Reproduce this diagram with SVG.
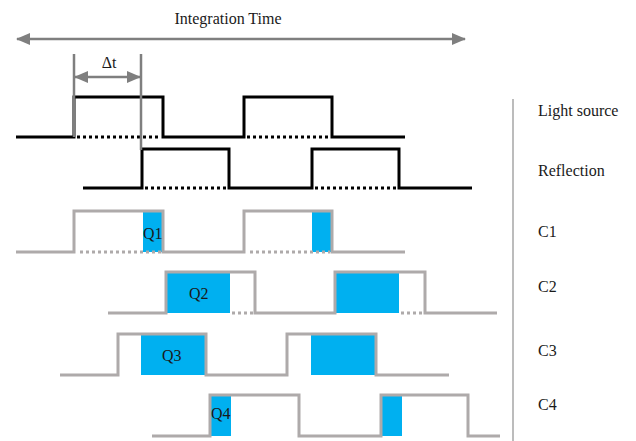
<svg xmlns="http://www.w3.org/2000/svg" width="636" height="441" viewBox="0 0 636 441">
<defs>
<style>
.txt{font-family:"Liberation Serif","Times New Roman",serif;font-size:16px;fill:#1a1a1a}
.blk{fill:none;stroke:#000;stroke-width:3}
.blkdot{fill:none;stroke:#000;stroke-width:3;stroke-dasharray:3 3}
.gry{fill:none;stroke:#aeaaaa;stroke-width:3}
.grydot{fill:none;stroke:#aeaaaa;stroke-width:3;stroke-dasharray:3 3}
.q{fill:#00b0f0}
.dim{fill:none;stroke:#7f7f7f;stroke-width:2.5}
</style>
<marker id="ah" viewBox="0 0 14 12" refX="13" refY="6" markerWidth="14" markerHeight="12" orient="auto-start-reverse" markerUnits="userSpaceOnUse">
<path d="M0,0 L14,6 L0,12 z" fill="#7f7f7f"/>
</marker>
</defs>
<rect width="636" height="441" fill="#fff"/>

<g id="connectors">
<line class="dim" x1="17" y1="39" x2="465" y2="39" marker-start="url(#ah)" marker-end="url(#ah)"/>
<line class="dim" x1="75" y1="77" x2="140" y2="77" marker-start="url(#ah)" marker-end="url(#ah)"/>
</g>

<g id="integration-label"><text class="txt" x="228" y="24" text-anchor="middle">Integration Time</text></g>
<g id="dt-label"><text class="txt" x="109" y="68" text-anchor="middle">Δt</text></g>

<g id="light-source">
<path class="blk" d="M16,137 H74 V97 H163 V137 H244 V97 H332 V137 H405"/>
<line class="blkdot" x1="77" y1="137" x2="161" y2="137"/>
<line class="blkdot" x1="247" y1="137" x2="330" y2="137"/>
</g>

<g id="reflection">
<path class="blk" d="M83,188 H142 V149 H229 V188 H312 V149 H399 V188 H472"/>
<line class="blkdot" x1="145" y1="188" x2="227" y2="188"/>
<line class="blkdot" x1="315" y1="188" x2="397" y2="188"/>
</g>

<g id="dt-markers">
<line class="dim" x1="74" y1="54" x2="74" y2="137"/>
<line class="dim" x1="141" y1="54" x2="141" y2="150"/>
</g>

<g id="c1">
<rect class="q" x="143" y="211" width="20" height="41"/>
<rect class="q" x="312" y="211" width="20" height="41"/>
<path class="gry" d="M16,252 H74 V211 H163 V252 H244 V211 H332 V252 H405"/>
<line class="grydot" x1="80" y1="252" x2="161" y2="252"/>
<line class="grydot" x1="250" y1="252" x2="330" y2="252"/>
<text class="txt" x="143" y="239">Q1</text>
</g>

<g id="c2">
<rect class="q" x="166" y="272" width="64" height="41"/>
<rect class="q" x="335" y="272" width="64" height="41"/>
<path class="gry" d="M108,313 H166 V272 H255 V313 H335 V272 H425 V313 H497"/>
<line class="grydot" x1="232" y1="313" x2="253" y2="313"/>
<line class="grydot" x1="401" y1="313" x2="423" y2="313"/>
<text class="txt" x="189" y="299">Q2</text>
</g>

<g id="c3">
<rect class="q" x="141" y="334" width="65" height="41"/>
<rect class="q" x="311" y="334" width="65" height="41"/>
<path class="gry" d="M60,375 H118 V334 H206 V375 H287 V334 H376 V375 H449"/>
<text class="txt" x="162" y="361">Q3</text>
</g>

<g id="c4">
<rect class="q" x="210" y="395" width="21" height="41"/>
<rect class="q" x="381" y="395" width="21" height="41"/>
<path class="gry" d="M152,436 H210 V395 H299 V436 H381 V395 H468 V436 H500"/>
<text class="txt" x="211" y="419">Q4</text>
</g>

<g id="divider"><line x1="513" y1="99" x2="513" y2="441" stroke="#a6a6a6" stroke-width="1.5"/></g>

<g id="labels">
<text class="txt" x="538" y="116">Light source</text>
<text class="txt" x="538" y="176">Reflection</text>
<text class="txt" x="538" y="237">C1</text>
<text class="txt" x="538" y="292">C2</text>
<text class="txt" x="538" y="356">C3</text>
<text class="txt" x="538" y="410">C4</text>
</g>
</svg>
